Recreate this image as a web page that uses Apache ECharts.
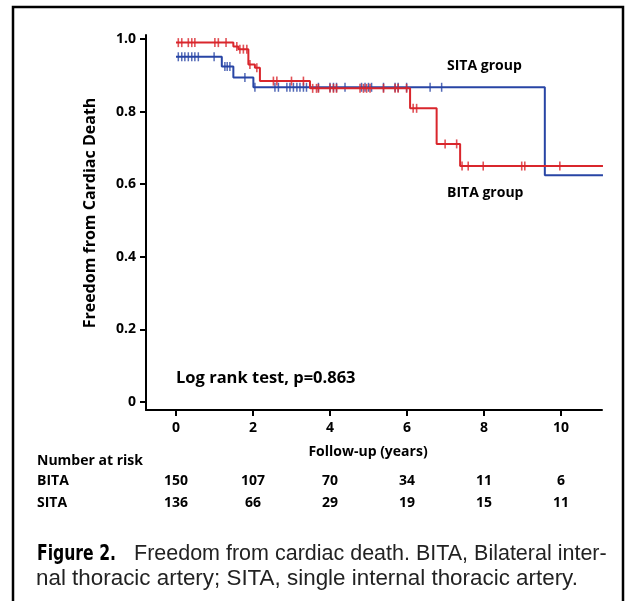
<!DOCTYPE html>
<html><head><meta charset="utf-8">
<script src="https://cdn.jsdelivr.net/npm/echarts@6/dist/echarts.min.js"></script>
<style>html,body{margin:0;padding:0;background:#fff}#c{width:626px;height:601px}</style>
</head><body><div id="c"></div>
<script>
// ---- data ----
var bitaTimes = [0, 1.49, 1.62, 1.88, 2.05, 2.18, 3.48, 6.08, 6.77, 7.38, 11.09];
var bitaSurv  = [0.99, 0.979, 0.972, 0.930, 0.921, 0.884, 0.864, 0.809, 0.711, 0.650, 0.650];
var sitaTimes = [0, 1.19, 1.49, 2.01, 9.58, 11.09];
var sitaSurv  = [0.951, 0.924, 0.894, 0.867, 0.625, 0.625];
var bitaCensor = [0.06,0.15,0.32,0.41,0.49,1.01,1.10,1.30,1.58,1.66,1.75,1.84,1.92,2.10,2.53,2.62,3.0,3.31,3.55,3.65,3.70,4.0,4.09,4.17,4.78,4.87,4.95,5.04,5.39,5.69,5.77,5.99,6.16,6.25,6.99,7.29,7.43,7.59,7.98,8.98,9.06,9.97];
var sitaCensor = [0.06,0.15,0.23,0.32,0.41,0.49,0.58,0.99,1.27,1.33,1.40,1.79,2.05,2.57,2.66,2.88,2.96,3.05,3.14,3.22,3.31,3.39,3.70,4.0,4.09,4.17,4.39,4.82,4.91,5.0,5.08,5.39,5.69,5.77,5.99,6.60,6.90];
var xTicks = [0, 2, 4, 6, 8, 10];
var yTicks = [0, 0.2, 0.4, 0.6, 0.8, 1.0];
var riskBita = [150, 107, 70, 34, 11, 6];
var riskSita = [136, 66, 29, 19, 15, 11];

var RED = '#d9262c', BLUE = '#2845a5';
var F = '"Open Sans", Lato, sans-serif';

function pairs(t, s){ return t.map(function(v,i){ return [v, s[i]]; }); }
function survAt(t, s, x){ var v = s[0]; for (var i=0;i<t.length;i++){ if (t[i] <= x) v = s[i]; } return v; }
function censorPts(c, t, s){ return c.map(function(x){ return [x, survAt(t, s, x)]; }); }

var chart = echarts.init(document.getElementById('c'), null, {renderer:'canvas'});
var option = {
  animation: false,
  backgroundColor: '#fff',
  grid: {left: 146, right: 24, top: 35, bottom: 191},
  xAxis: {
    type: 'value', min: -0.779, max: 11.065,
    splitLine: {show: false},
    axisLine: {onZero: false, lineStyle: {color: '#000', width: 2}},
    axisTick: {customValues: xTicks, length: 6, lineStyle: {color: '#000', width: 2}},
    axisLabel: {customValues: xTicks, margin: 11, color: '#000', fontWeight: 'bold', fontSize: 14, fontFamily: F}
  },
  yAxis: {
    type: 'value', min: -0.022, max: 1.011,
    splitLine: {show: false},
    axisLine: {onZero: false, lineStyle: {color: '#000', width: 2}},
    axisTick: {customValues: yTicks, length: 6, lineStyle: {color: '#000', width: 2}},
    axisLabel: {customValues: yTicks, margin: 10, color: '#000', fontWeight: 'bold', fontSize: 14, fontFamily: F,
      formatter: function(v){ return Math.abs(v) < 1e-9 ? '0' : v.toFixed(1); }}
  },
  series: [
    {type: 'line', step: 'end', data: pairs(sitaTimes, sitaSurv), showSymbol: false, symbol: 'none',
     lineStyle: {color: BLUE, width: 2}, z: 2},
    {type: 'scatter', data: censorPts(sitaCensor, sitaTimes, sitaSurv), symbol: 'rect', symbolSize: [1.5, 9],
     itemStyle: {color: BLUE}, z: 2},
    {type: 'line', step: 'end', data: pairs(bitaTimes, bitaSurv), showSymbol: false, symbol: 'none',
     lineStyle: {color: RED, width: 2}, z: 3},
    {type: 'scatter', data: censorPts(bitaCensor, bitaTimes, bitaSurv), symbol: 'rect', symbolSize: [1.6, 9],
     itemStyle: {color: RED}, z: 3}
  ]
};
chart.setOption(option);

var CAP = '22px "Liberation Sans", Arial, sans-serif';
var g = [
  {type: 'rect', shape: {x: 13, y: 7, width: 610, height: 620}, style: {fill: 'none', stroke: '#000', lineWidth: 2.5}, z: 0},
  {type: 'text', x: 90, y: 213, rotation: Math.PI/2, style: {text: 'Freedom from Cardiac Death', font: 'bold 16px ' + F, fill: '#000', align: 'center', verticalAlign: 'middle'}},
  {type: 'text', x: 176, y: 378, style: {text: 'Log rank test, p=0.863', font: 'bold 16.5px ' + F, fill: '#000', align: 'left', verticalAlign: 'middle'}},
  {type: 'text', x: 447, y: 66, style: {text: 'SITA group', font: 'bold 14px ' + F, fill: '#000', align: 'left', verticalAlign: 'middle'}},
  {type: 'text', x: 447, y: 193, style: {text: 'BITA group', font: 'bold 14px ' + F, fill: '#000', align: 'left', verticalAlign: 'middle'}},
  {type: 'text', x: 368, y: 452, style: {text: 'Follow-up (years)', font: 'bold 14px ' + F, fill: '#000', align: 'center', verticalAlign: 'middle'}},
  {type: 'text', x: 37, y: 461, style: {text: 'Number at risk', font: 'bold 14px ' + F, fill: '#000', align: 'left', verticalAlign: 'middle'}},
  {type: 'text', x: 37, y: 481, style: {text: 'BITA', font: 'bold 14px ' + F, fill: '#000', align: 'left', verticalAlign: 'middle'}},
  {type: 'text', x: 37, y: 503, style: {text: 'SITA', font: 'bold 14px ' + F, fill: '#000', align: 'left', verticalAlign: 'middle'}},
  {type: 'text', x: 37, y: 554, scaleX: 0.79, style: {text: 'Figure 2.', font: 'bold 22px "DejaVu Sans Condensed", "DejaVu Sans", sans-serif', fill: '#000', verticalAlign: 'middle'}},
  {type: 'text', x: 134, y: 554, scaleX: 0.977, style: {text: 'Freedom from cardiac death. BITA, Bilateral inter-', font: CAP, fill: '#222', verticalAlign: 'middle'}},
  {type: 'text', x: 36, y: 579, scaleX: 1.018, style: {text: 'nal thoracic artery; SITA, single internal thoracic artery.', font: CAP, fill: '#222', verticalAlign: 'middle'}}
];
xTicks.forEach(function(t, i){
  var px = chart.convertToPixel({xAxisIndex: 0}, t);
  g.push({type: 'text', x: px, y: 481, style: {text: String(riskBita[i]), font: 'bold 14px ' + F, fill: '#000', align: 'center', verticalAlign: 'middle'}});
  g.push({type: 'text', x: px, y: 503, style: {text: String(riskSita[i]), font: 'bold 14px ' + F, fill: '#000', align: 'center', verticalAlign: 'middle'}});
});
chart.setOption({graphic: g});
</script></body></html>
